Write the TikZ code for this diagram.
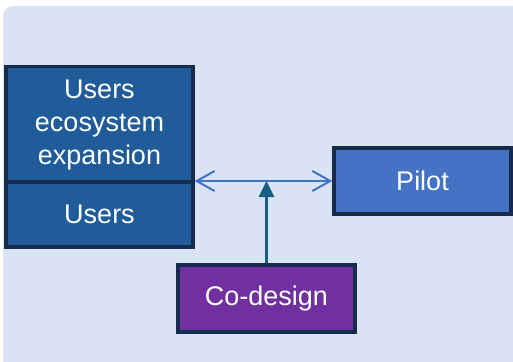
\documentclass[tikz,border=0pt]{standalone}
\usepackage{fontspec}
\setmainfont{Liberation Sans}
\usetikzlibrary{arrows.meta}
\definecolor{panel}{HTML}{DAE3F3}
\definecolor{navy}{HTML}{172B4D}
\definecolor{deepblue}{HTML}{1F5C99}
\definecolor{midblue}{HTML}{4472C4}
\definecolor{violet}{HTML}{7030A0}
\definecolor{teal}{HTML}{156082}
\begin{document}
\begin{tikzpicture}[x=1pt,y=-1pt,
  box/.style={draw=navy,line width=3.2pt,inner sep=0pt,text=white,align=center,
    font=\fontsize{27}{33}\selectfont},
  link/.style={draw=midblue,line width=2pt,{Straight Barb[length=18pt,width=20pt]}-{Straight Barb[length=18pt,width=20pt]}},
  feed/.style={draw=teal,line width=3pt,-{Triangle[length=16pt,width=15pt]}}]
  \useasboundingbox (0,0) rectangle (513,361);
  % background panel
  \fill[panel,rounded corners=10pt] (3,6) rectangle (530,380);
  % boxes
  \node[box,fill=deepblue,minimum width=187pt,minimum height=117pt] (ueb) at (99.5,125)
    {Users\\ecosystem\\expansion};
  \node[box,fill=deepblue,minimum width=187pt,minimum height=65pt] (users) at (99.5,214.5) {Users};
  \node[box,fill=midblue,minimum width=177pt,minimum height=66pt] (pilot) at (422.5,181) {Pilot};
  \node[box,fill=violet,minimum width=177pt,minimum height=67pt] (codesign) at (266.5,298.5) {Co-design};
  % connectors
  \coordinate (meet) at (codesign.north |- pilot.west);
  \draw[link] (pilot.west -| ueb.east) -- (pilot.west);
  \draw[feed] (codesign.north) -- (meet);
\end{tikzpicture}
\end{document}
